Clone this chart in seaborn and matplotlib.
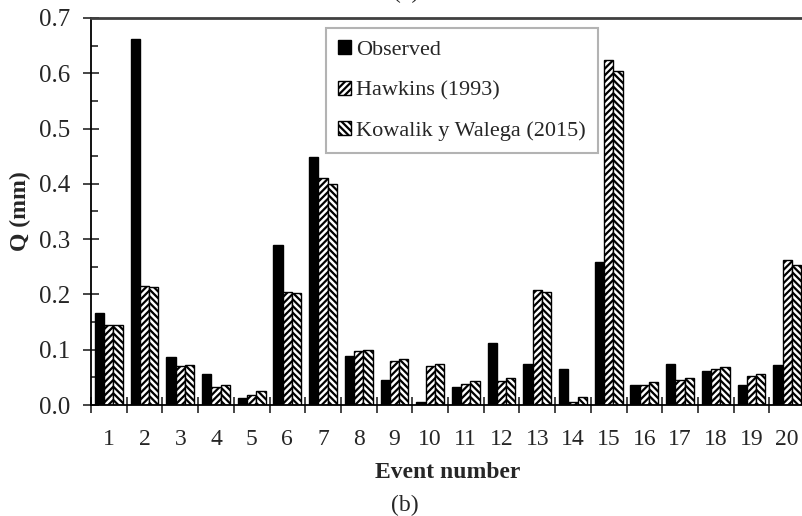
import numpy as np
import pandas as pd
import matplotlib
matplotlib.use("Agg")
import matplotlib.pyplot as plt
from matplotlib.patches import Patch
from matplotlib.ticker import MultipleLocator, FormatStrFormatter
import seaborn as sns

events = [str(i) for i in range(1, 21)]
series_names = ["Observed", "Hawkins (1993)", "Kowalik y Walega (2015)"]
observed = [0.166, 0.662, 0.086, 0.056, 0.013, 0.290, 0.449, 0.089, 0.045, 0.006,
            0.033, 0.113, 0.074, 0.066, 0.258, 0.036, 0.075, 0.062, 0.036, 0.072]
hawkins = [0.145, 0.215, 0.071, 0.032, 0.018, 0.205, 0.411, 0.098, 0.080, 0.071,
           0.038, 0.043, 0.208, 0.006, 0.624, 0.037, 0.045, 0.065, 0.052, 0.262]
kowalik = [0.145, 0.213, 0.072, 0.037, 0.025, 0.202, 0.399, 0.100, 0.083, 0.075,
           0.043, 0.048, 0.205, 0.015, 0.604, 0.042, 0.049, 0.068, 0.056, 0.254]

df = pd.DataFrame({
    "event": events * 3,
    "series": np.repeat(series_names, len(events)),
    "Q": observed + hawkins + kowalik,
})

sns.set_theme(style="white")
plt.rcParams["font.family"] = ["Liberation Serif", "DejaVu Serif"]
plt.rcParams["hatch.linewidth"] = 1.6

fig = plt.figure(figsize=(8.02, 5.16), dpi=100)
ax = fig.add_axes([91 / 802, 1 - 405 / 516, 714 / 802, 387 / 516])

fills = ["black", "white", "white"]
hatches = [None, "/////", "\\\\\\\\\\"]

sns.barplot(data=df, x="event", y="Q", hue="series", order=events,
            hue_order=series_names, palette=fills,
            edgecolor="black", linewidth=1.0, width=0.78, ax=ax, errorbar=None,
            legend=False)

for cont, hatch in zip(ax.containers, hatches):
    for bar in cont:
        if hatch:
            bar.set_hatch(hatch)

ax.set_xlim(-0.5, len(events) - 0.5)
ax.set_ylim(0, 0.7)
ax.yaxis.set_major_locator(MultipleLocator(0.1))
ax.yaxis.set_minor_locator(MultipleLocator(0.05))
ax.yaxis.set_major_formatter(FormatStrFormatter("%.1f"))
ax.xaxis.set_minor_locator(MultipleLocator(1, offset=0.5))

ax.tick_params(axis="y", which="major", direction="inout", length=12, width=1.2,
               labelsize=18, pad=9, left=True)
ax.tick_params(axis="y", which="minor", direction="in", length=5, width=1.2, left=True)
ax.tick_params(axis="x", which="major", length=0, labelsize=17, pad=17)
ax.tick_params(axis="x", which="minor", direction="inout", length=12, width=1.2, bottom=True)

for side in ["left", "bottom"]:
    ax.spines[side].set_color("black")
    ax.spines[side].set_linewidth(1.3)
ax.spines["top"].set_color("#404040")
ax.spines["top"].set_linewidth(2.0)
ax.spines["right"].set_visible(False)

ax.set_xlabel("Event number", fontsize=17, fontweight="bold", labelpad=9)
ax.set_ylabel("Q (mm)", fontsize=17, fontweight="bold", labelpad=6)

handles = [Patch(facecolor=f, edgecolor="black", hatch=h, linewidth=1.0)
           for f, h in zip(fills, hatches)]
leg = ax.legend(handles, series_names, loc="upper left",
                bbox_to_anchor=(0.329, 0.974), borderaxespad=0,
                fontsize=16, frameon=True, fancybox=False, edgecolor="#a0a0a0",
                handlelength=0.6, handleheight=0.6, handletextpad=0.2,
                labelspacing=0.92, borderpad=0.55)
leg.get_frame().set_linewidth(1.5)

fig.text(406 / 802, 1 + 2 / 516, "(a)", ha="center", va="baseline", fontsize=17)
fig.text(405 / 802, 1 - 505 / 516, "(b)", ha="center", va="center", fontsize=17)

fig.savefig("out.png", dpi=100)
